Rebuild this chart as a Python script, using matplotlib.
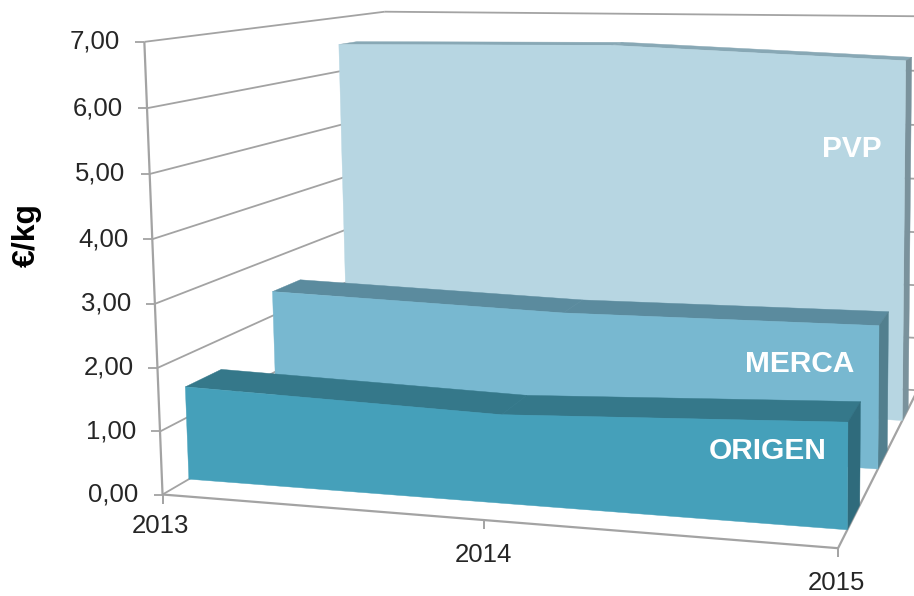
import matplotlib
matplotlib.use("Agg")
import matplotlib.pyplot as plt
import numpy as np

years = ["2013", "2014", "2015"]
origen = [1.50, 1.38, 1.60]
merca = [2.42, 2.30, 2.35]
pvp = [6.50, 6.55, 6.35]
y_ticks = [0, 1, 2, 3, 4, 5, 6, 7]
y_labels = ["0,00", "1,00", "2,00", "3,00", "4,00", "5,00", "6,00", "7,00"]

# box corners (x 0-1 along years, depth 0-1, value 0-7) -> pixels, used to fit the camera
box = [(0, 0, 0), (0, 0, 7), (0, 1, 7), (0, 1, 0), (1, 0, 0), (1, 1, 0), (1, 1, 7)]
pix = [(161, 490), (146, 42), (383, 10), (395, 365), (838, 553), (917, 385), (922, 18)]

rows = []
rhs = []
for (a, b, c), (u, v) in zip(box, pix):
    rows.append([a, b, c, 1, 0, 0, 0, 0, -u * a, -u * b, -u * c])
    rows.append([0, 0, 0, 0, a, b, c, 1, -v * a, -v * b, -v * c])
    rhs += [u, v]
cam = np.linalg.lstsq(np.array(rows, float), np.array(rhs, float), rcond=None)[0]
cam = np.append(cam, 1).reshape(3, 4)


def proj(x, d, z):
    p = cam @ np.array([x, d, z, 1.0])
    return p[0] / p[2], p[1] / p[2]


fig = plt.figure(figsize=(9.14, 5.96), dpi=100)
ax = fig.add_axes((0, 0, 1, 1))
ax.set_xlim(0, 914)
ax.set_ylim(596, 0)
ax.axis("off")
plt.rcParams["font.family"] = ["Liberation Sans", "DejaVu Sans"]

grey = "#A3A3A3"


def line(p, q, lw=1.3):
    ax.plot([p[0], q[0]], [p[1], q[1]], color=grey, lw=lw, solid_capstyle="butt")


# walls and floor
for z in y_ticks:
    a = proj(0, 0, z)
    line((a[0] - 9, a[1]), a)
    line(a, proj(0, 1, z))
    line(proj(0, 1, z), proj(1, 1, z))
    ax.text(a[0] - 24, a[1], y_labels[z], ha="right", va="center", fontsize=18.5, color="#262626")
line(proj(0, 0, 0), proj(0, 0, 7), 1.6)
line(proj(0, 0, 0), proj(1, 0, 0), 1.6)
line(proj(1, 0, 0), proj(1, 1, 0), 1.6)

xs = [0, 0.5, 1]
label_pos = [(160, 526), (483, 555), (836, 583)]
for x, year, pos in zip(xs, years, label_pos):
    a = proj(x, 0, 0)
    line(a, (a[0], a[1] + 9), 1.4)
    ax.text(pos[0], pos[1], year, ha="center", va="center", fontsize=18.5, color="#262626")


def area(values, d0, d1, front, top, side, zorder):
    # top faces first, then the right side, then the front
    for i in range(2):
        q = [proj(xs[i], d0, values[i]), proj(xs[i + 1], d0, values[i + 1]),
             proj(xs[i + 1], d1, values[i + 1]), proj(xs[i], d1, values[i])]
        ax.fill(*zip(*q), color=top, lw=0.3, zorder=zorder)
    q = [proj(1, d0, 0), proj(1, d1, 0), proj(1, d1, values[2]), proj(1, d0, values[2])]
    ax.fill(*zip(*q), color=side, lw=0.3, zorder=zorder)
    q = [proj(x, d0, v) for x, v in zip(xs, values)] + [proj(1, d0, 0), proj(0, d0, 0)]
    ax.fill(*zip(*q), color=front, lw=0.3, zorder=zorder + 0.1)


area(pvp, 0.76, 0.85, "#B7D6E2", "#88A8B5", "#7A929C", 3)
area(merca, 0.43, 0.55, "#78B8D0", "#5B8B9E", "#527F8E", 4)
area(origen, 0.09, 0.22, "#45A0BA", "#35788A", "#2F6B7C", 5)

ax.text(852, 149, "PVP", color="white", fontsize=21.5, fontweight="bold", ha="center", va="center", zorder=9)
ax.text(800, 364, "MERCA", color="white", fontsize=21.5, fontweight="bold", ha="center", va="center", zorder=9)
ax.text(768, 451, "ORIGEN", color="white", fontsize=21.5, fontweight="bold", ha="center", va="center", zorder=9)
ax.text(27, 235, "€/kg", color="black", fontsize=23, fontweight="bold", rotation=90, ha="center", va="center")

fig.savefig("out.png", dpi=100)
